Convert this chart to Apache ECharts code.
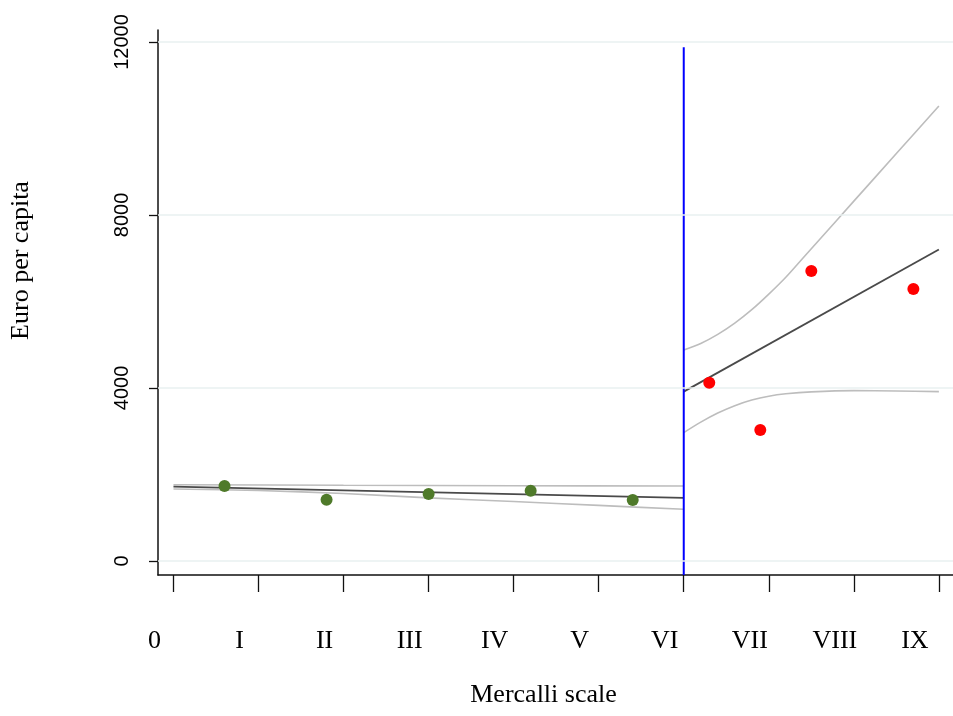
<!DOCTYPE html>
<html>
<head>
<meta charset="utf-8">
<script src="https://cdn.jsdelivr.net/npm/echarts@6/dist/echarts.min.js"></script>
<style>html,body{margin:0;padding:0;background:#fff}#c{width:953px;height:716px}</style>
</head>
<body>
<div id="c"></div>
<script>
// ---- data ----
const xTickValues = [0, 1, 2, 3, 4, 5, 6, 7, 8, 9];
const xTickLabels = ['0', 'I', 'II', 'III', 'IV', 'V', 'VI', 'VII', 'VIII', 'IX'];
const yTickValues = [0, 4000, 8000, 12000];

const leftBinX = [0.6, 1.8, 3.0, 4.2, 5.4];
const leftBinY = [1734, 1417, 1549, 1626, 1410];
const rightBinX = [6.3, 6.9, 7.5, 8.7];
const rightBinY = [4123, 3029, 6705, 6289];

const leftFitX = [0, 6];
const leftFitY = [1718, 1457];
const leftUpperX = [0, 2, 4, 6];
const leftUpperY = [1764, 1750, 1740, 1734];
const leftLowerX = [0, 1, 2, 3, 4, 5, 6];
const leftLowerY = [1665, 1630, 1560, 1460, 1375, 1285, 1195];

const rightFitX = [6, 9];
const rightFitY = [3915, 7200];
const rightUpperX = [6, 6.2, 6.4, 6.6, 6.8, 7.0, 7.2, 7.4, 7.6, 8, 8.5, 9];
const rightUpperY = [4879, 5030, 5240, 5500, 5810, 6170, 6560, 7000, 7440, 8320, 9420, 10520];
const rightLowerX = [6, 6.2, 6.4, 6.6, 6.8, 7.0, 7.2, 7.5, 8, 8.5, 9];
const rightLowerY = [2967, 3210, 3420, 3590, 3720, 3810, 3865, 3910, 3938, 3930, 3915];

const cutoffX = 6;
const cutoffTop = 11880;

const xMin = -0.182, xMax = 9.166;
const yMin = -324, yMax = 12277;

const zip = (xs, ys) => xs.map((x, i) => [x, ys[i]]);

const chart = echarts.init(document.getElementById('c'), null, {renderer: 'canvas'});

const ciStyle = {color: '#bdbdbd', width: 1.6};
const fitStyle = {color: '#4a4a4a', width: 1.8};

const lineSeries = (data, style, z, smooth) => ({
  type: 'line', data, showSymbol: false, symbol: 'none', smooth: smooth || false,
  lineStyle: style, z, silent: true, animation: false
});

const serif = 'Liberation Serif';

chart.setOption({
  animation: false,
  grid: {left: 158, right: 0, top: 30, bottom: 141, containLabel: false, outerBoundsMode: 'none'},
  xAxis: {
    type: 'value', min: xMin, max: xMax,
    name: 'Mercalli scale', nameLocation: 'middle', nameGap: 107,
    nameTextStyle: {fontFamily: serif, fontSize: 26, color: '#000', padding: [0, 24, 0, 0]},
    axisLine: {show: true, onZero: false, lineStyle: {color: '#111', width: 1.5}},
    axisTick: {show: true, customValues: xTickValues, length: 17, lineStyle: {color: '#111', width: 1.3}},
    axisLabel: {
      show: true, customValues: xTickValues, margin: 53,
      fontFamily: serif, fontSize: 26, color: '#000',
      padding: [0, 38, 0, 0],
      formatter: v => {
        const s = xTickLabels[xTickValues.indexOf(Math.round(v))];
        return s === 'IX' ? '{ix|' + s + '}' : s;
      },
      rich: {ix: {fontFamily: serif, fontSize: 26, color: '#000', padding: [0, 10, 0, 0]}}
    },
    splitLine: {show: false}
  },
  yAxis: {
    type: 'value', min: yMin, max: yMax,
    name: 'Euro per capita', nameLocation: 'middle', nameGap: 124,
    nameTextStyle: {fontFamily: serif, fontSize: 26, color: '#000', padding: [0, 0, 0, 84]},
    axisLine: {show: true, onZero: false, lineStyle: {color: '#111', width: 1.5}},
    axisTick: {show: true, customValues: yTickValues, length: 9, lineStyle: {color: '#111', width: 1.3}},
    axisLabel: {
      show: true, customValues: yTickValues, rotate: 90, margin: 26,
      fontFamily: 'Liberation Sans', fontSize: 20, color: '#000',
      formatter: v => String(Math.round(v))
    },
    splitLine: {show: false}
  },
  series: [
    {
      type: 'line', data: [], silent: true, z: 1,
      markLine: {
        silent: true, symbol: 'none', label: {show: false},
        lineStyle: {color: '#e9f0f0', width: 1.5, type: 'solid'},
        data: yTickValues.map(v => ({yAxis: v}))
      }
    },
    lineSeries(zip(leftUpperX, leftUpperY), ciStyle, 2, 0.3),
    lineSeries(zip(leftLowerX, leftLowerY), ciStyle, 2, 0.3),
    lineSeries(zip(rightUpperX, rightUpperY), ciStyle, 2, 0.3),
    lineSeries(zip(rightLowerX, rightLowerY), ciStyle, 2, 0.3),
    lineSeries(zip(leftFitX, leftFitY), fitStyle, 3),
    lineSeries(zip(rightFitX, rightFitY), fitStyle, 3),
    lineSeries([[cutoffX, yMin], [cutoffX, cutoffTop]], {color: '#0000ff', width: 2}, 4),
    {
      type: 'scatter', data: zip(leftBinX, leftBinY), symbol: 'circle', symbolSize: 12,
      itemStyle: {color: '#4f7a2a', opacity: 1}, z: 5, silent: true
    },
    {
      type: 'scatter', data: zip(rightBinX, rightBinY), symbol: 'circle', symbolSize: 12,
      itemStyle: {color: '#ff0000', opacity: 1}, z: 5, silent: true
    }
  ]
});
</script>
</body>
</html>
